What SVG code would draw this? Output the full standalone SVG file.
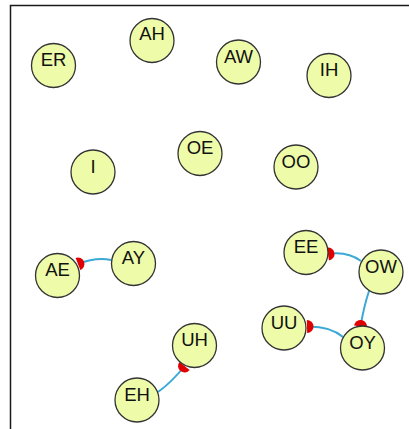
<svg xmlns="http://www.w3.org/2000/svg" width="409" height="429" viewBox="0 0 409 429">
  <style>
    .node circle { fill: #eefba8; stroke: #333333; stroke-width: 1.3; }
    .node text { font-family: "Liberation Sans", Arial, sans-serif; font-size: 18.5px; fill: #111111; text-anchor: middle; }
    .edge { fill: none; stroke: #3aa9d6; stroke-width: 2; marker-end: url(#cap); }
  </style>
  <defs>
    <!-- half-disc arrow cap: flat side on the target rim, dome facing the source -->
    <marker id="cap" markerUnits="userSpaceOnUse" viewBox="-8 -8 16 16" markerWidth="16" markerHeight="16" refX="0" refY="0" orient="auto">
      <path d="M0,-6.5 A6.5,6.5 0 0 0 0,6.5 Z" fill="#e00000"/>
    </marker>
  </defs>

  <rect x="10.5" y="5.5" width="420" height="440" fill="#ffffff" stroke="#1a1a1a" stroke-width="1.5"/>

  <g id="edges">
    <path class="edge" d="M111,260 Q96,257 78,264"/>
    <path class="edge" d="M361,261 Q347,251 328,254"/>
    <path class="edge" d="M369,291 Q364,306 360.5,326.5"/>
    <path class="edge" d="M343,337 Q330,326 307,326.5"/>
    <path class="edge" d="M158,392 Q172,382 184.5,366"/>
  </g>

  <g id="ER" class="node"><circle cx="53.5" cy="65.5" r="22"/><text x="53.5" y="66">ER</text></g>
  <g id="AH" class="node"><circle cx="152" cy="40.5" r="22"/><text x="152" y="40">AH</text></g>
  <g id="AW" class="node"><circle cx="238.5" cy="62" r="22"/><text x="238.5" y="62.5">AW</text></g>
  <g id="IH" class="node"><circle cx="329" cy="75.5" r="22"/><text x="329" y="76">IH</text></g>
  <g id="I" class="node"><circle cx="93" cy="172" r="22"/><text x="93" y="172.5">I</text></g>
  <g id="OE" class="node"><circle cx="200" cy="153.5" r="22"/><text x="200" y="154">OE</text></g>
  <g id="OO" class="node"><circle cx="296" cy="167" r="22"/><text x="296" y="167.5">OO</text></g>
  <g id="AE" class="node"><circle cx="57.5" cy="275.5" r="22"/><text x="57.5" y="276">AE</text></g>
  <g id="AY" class="node"><circle cx="133.5" cy="263.5" r="22"/><text x="133.5" y="264">AY</text></g>
  <g id="EE" class="node"><circle cx="306" cy="252.5" r="22"/><text x="306" y="253">EE</text></g>
  <g id="OW" class="node"><circle cx="381" cy="272" r="22"/><text x="381" y="272.5">OW</text></g>
  <g id="UU" class="node"><circle cx="284" cy="328" r="22"/><text x="284" y="328.5">UU</text></g>
  <g id="OY" class="node"><circle cx="362.5" cy="348" r="22"/><text x="362.5" y="348.5">OY</text></g>
  <g id="UH" class="node"><circle cx="194.5" cy="345.5" r="22"/><text x="194.5" y="346">UH</text></g>
  <g id="EH" class="node"><circle cx="137" cy="400" r="22"/><text x="137" y="400.5">EH</text></g>
</svg>
